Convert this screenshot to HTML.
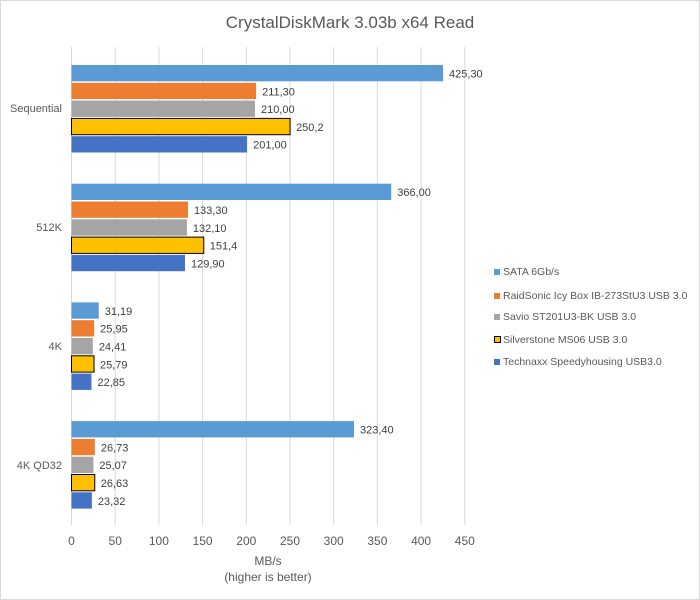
<!DOCTYPE html>
<html><head><meta charset="utf-8"><style>body{margin:0;background:#fff}svg{display:block;font-family:"Liberation Sans",sans-serif}</style></head><body>
<svg width="700" height="600" viewBox="0 0 700 600">
<rect x="0.5" y="0.5" width="699" height="599" fill="#fff" stroke="#d9d9d9"/>
<text x="350" y="28" text-anchor="middle" font-size="17" fill="#595959">CrystalDiskMark 3.03b x64 Read</text>
<g stroke="#d9d9d9" stroke-width="1">
<line x1="71.5" y1="47" x2="71.5" y2="525"/><line x1="115.2" y1="47" x2="115.2" y2="525"/><line x1="158.9" y1="47" x2="158.9" y2="525"/><line x1="202.6" y1="47" x2="202.6" y2="525"/><line x1="246.3" y1="47" x2="246.3" y2="525"/><line x1="290" y1="47" x2="290" y2="525"/><line x1="333.7" y1="47" x2="333.7" y2="525"/><line x1="377.4" y1="47" x2="377.4" y2="525"/><line x1="421.1" y1="47" x2="421.1" y2="525"/><line x1="464.8" y1="47" x2="464.8" y2="525"/>
</g>
<g font-size="12" fill="#595959" text-anchor="middle">
<text x="71.5" y="545">0</text><text x="115.2" y="545">50</text><text x="158.9" y="545">100</text><text x="202.6" y="545">150</text><text x="246.3" y="545">200</text><text x="290" y="545">250</text><text x="333.7" y="545">300</text><text x="377.4" y="545">350</text><text x="421.1" y="545">400</text><text x="464.8" y="545">450</text>
<text x="268" y="565">MB/s</text><text x="268" y="581">(higher is better)</text>
</g>
<g font-size="11" fill="#595959" text-anchor="end">
<text x="62" y="112">Sequential</text><text x="62" y="231">512K</text><text x="62" y="350">4K</text><text x="62" y="469">4K QD32</text>
</g>
<g id="bars" font-size="11" fill="#404040"></g>
<g font-size="10.5" fill="#595959">
<rect x="494" y="269" width="6" height="6" fill="#5b9bd5"/><text x="503" y="275">SATA 6Gb/s</text>
<rect x="494" y="293" width="6" height="6" fill="#ed7d31"/><text x="503" y="299">RaidSonic Icy Box IB-273StU3 USB 3.0</text>
<rect x="494" y="314" width="6" height="6" fill="#a5a5a5"/><text x="503" y="320">Savio ST201U3-BK USB 3.0</text>
<rect x="494.5" y="336.5" width="6" height="6" fill="#ffc000" stroke="#000"/><text x="503" y="343">Silverstone MS06 USB 3.0</text>
<rect x="494" y="359" width="6" height="6" fill="#4472c4"/><text x="503" y="365">Technaxx Speedyhousing USB3.0</text>
</g>
</svg>
<script>
var d=[[425.3,211.3,210,250.2,201],[366,133.3,132.1,151.4,129.9],[31.19,25.95,24.41,25.79,22.85],[323.4,26.73,25.07,26.63,23.32]];
var l=[["425,30","211,30","210,00","250,2","201,00"],["366,00","133,30","132,10","151,4","129,90"],["31,19","25,95","24,41","25,79","22,85"],["323,40","26,73","25,07","26,63","23,32"]];
var c=["#5b9bd5","#ed7d31","#a5a5a5","#ffc000","#4472c4"];
var s="";
for(var g=0;g<4;g++)for(var i=0;i<5;i++){var y=65+g*118.7+i*17.8,w=d[g][i]*0.8736;
s+='<rect x="71.5" y="'+y+'" width="'+w+'" height="16.3" fill="'+c[i]+'"'+(i==3?' stroke="#000" stroke-width="1"':'')+'/>';
s+='<text x="'+(71.5+w+6)+'" y="'+(y+12.5)+'">'+l[g][i]+'</text>';}
document.getElementById("bars").innerHTML=s;
</script>
</body></html>
